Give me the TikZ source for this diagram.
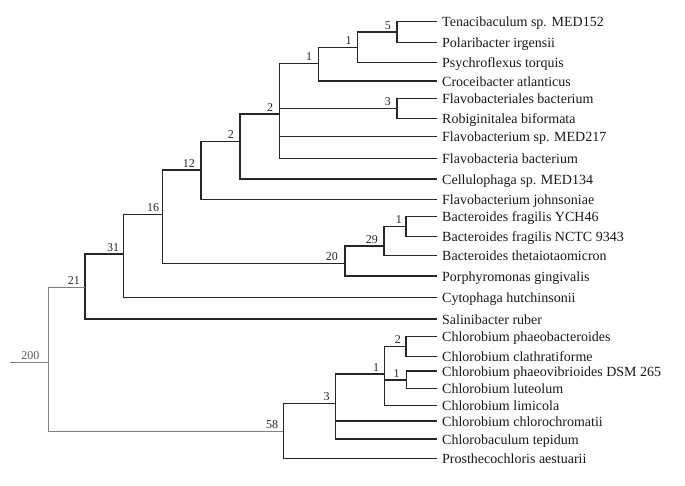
\documentclass[tikz,border=0pt]{standalone}
\usepackage{fontspec}
\setmainfont{Liberation Serif}
\begin{document}
\begin{tikzpicture}[x=1pt,y=-1pt,
  br/.style={line width=1.3pt, draw=black!85},
  rootline/.style={line width=0.8pt, draw=black!50},
  lab/.style={font=\fontsize{12}{12}\selectfont, inner sep=0pt, anchor=base east, text=black!85},
  leaf/.style={font=\fontsize{14}{14}\selectfont, inner sep=0pt, anchor=base west, text=black!90}]
\useasboundingbox (0,0) rectangle (685,485);
% leaf tips
\coordinate (t1) at (437,21.5);
\coordinate (t2) at (437,42.5);
\coordinate (t3) at (437,62.3);
\coordinate (t4) at (437,81);
\coordinate (t5) at (437,98.3);
\coordinate (t6) at (437,118.3);
\coordinate (t7) at (437,136.7);
\coordinate (t8) at (437,158.3);
\coordinate (t9) at (437,179);
\coordinate (t10) at (437,199.3);
\coordinate (t11) at (437,216.7);
\coordinate (t12) at (437,236.7);
\coordinate (t13) at (437,255.7);
\coordinate (t14) at (437,276);
\coordinate (t15) at (437,297.3);
\coordinate (t16) at (437,319);
\coordinate (t17) at (437,336.7);
\coordinate (t18) at (437,356.7);
\coordinate (t19) at (437,371);
\coordinate (t20) at (437,388.3);
\coordinate (t21) at (437,405.7);
\coordinate (t22) at (437,421);
\coordinate (t23) at (437,439);
\coordinate (t24) at (437,458.3);
% leaf labels
\node[leaf] (l1) at ([shift={(5,5)}]t1) {Tenacibaculum sp. MED152};
\node[leaf] (l2) at ([shift={(5,5)}]t2) {Polaribacter irgensii};
\node[leaf] (l3) at ([shift={(5,5)}]t3) {Psychroflexus torquis};
\node[leaf] (l4) at ([shift={(5,5)}]t4) {Croceibacter atlanticus};
\node[leaf] (l5) at ([shift={(5,5)}]t5) {Flavobacteriales bacterium};
\node[leaf] (l6) at ([shift={(5,5)}]t6) {Robiginitalea biformata};
\node[leaf] (l7) at ([shift={(5,5)}]t7) {Flavobacterium sp. MED217};
\node[leaf] (l8) at ([shift={(5,5)}]t8) {Flavobacteria bacterium};
\node[leaf] (l9) at ([shift={(5,5)}]t9) {Cellulophaga sp. MED134};
\node[leaf] (l10) at ([shift={(5,5)}]t10) {Flavobacterium johnsoniae};
\node[leaf] (l11) at ([shift={(5,5)}]t11) {Bacteroides fragilis YCH46};
\node[leaf] (l12) at ([shift={(5,5)}]t12) {Bacteroides fragilis NCTC 9343};
\node[leaf] (l13) at ([shift={(5,5)}]t13) {Bacteroides thetaiotaomicron};
\node[leaf] (l14) at ([shift={(5,5)}]t14) {Porphyromonas gingivalis};
\node[leaf] (l15) at ([shift={(5,5)}]t15) {Cytophaga hutchinsonii};
\node[leaf] (l16) at ([shift={(5,5)}]t16) {Salinibacter ruber};
\node[leaf] (l17) at ([shift={(5,5)}]t17) {Chlorobium phaeobacteroides};
\node[leaf] (l18) at ([shift={(5,5)}]t18) {Chlorobium clathratiforme};
\node[leaf] (l19) at ([shift={(5,5)}]t19) {Chlorobium phaeovibrioides DSM 265};
\node[leaf] (l20) at ([shift={(5,5)}]t20) {Chlorobium luteolum};
\node[leaf] (l21) at ([shift={(5,5)}]t21) {Chlorobium limicola};
\node[leaf] (l22) at ([shift={(5,5)}]t22) {Chlorobium chlorochromatii};
\node[leaf] (l23) at ([shift={(5,5)}]t23) {Chlorobaculum tepidum};
\node[leaf] (l24) at ([shift={(5,5)}]t24) {Prosthecochloris aestuarii};
% internal nodes
\coordinate (a5) at (397,32);
\coordinate (a1a) at (357.7,47.3);
\coordinate (a1b) at (318.3,63.3);
\coordinate (a3) at (397,108.3);
\coordinate (a2a) at (279.3,114);
\coordinate (a2b) at (240,141.7);
\coordinate (a12) at (201,170);
\coordinate (a1c) at (406,226.7);
\coordinate (a29) at (384,246);
\coordinate (a20) at (345,263.3);
\coordinate (a16) at (162.3,214.7);
\coordinate (a31) at (123.3,254);
\coordinate (a21) at (85,287.3);
\coordinate (a2c) at (406,346.7);
\coordinate (a1d) at (406.7,380);
\coordinate (a1e) at (384.3,374);
\coordinate (a3b) at (335.7,403.3);
\coordinate (a58) at (283.3,431.7);
\coordinate (root) at (48,362.7);
\coordinate (rootend) at (10,362.7);
% node labels
\node[lab] (n5) at ([shift={(-6,-3)}]a5) {5};
\node[lab] (n1a) at ([shift={(-6,-3)}]a1a) {1};
\node[lab] (n1b) at ([shift={(-6,-3)}]a1b) {1};
\node[lab] (n3) at ([shift={(-6,-3)}]a3) {3};
\node[lab] (n2a) at ([shift={(-6,-3)}]a2a) {2};
\node[lab] (n2b) at ([shift={(-6,-3)}]a2b) {2};
\node[lab] (n12) at ([shift={(-6,-3)}]a12) {12};
\node[lab] (n1c) at ([shift={(-4,-3)}]a1c) {1};
\node[lab] (n29) at ([shift={(-6,-3)}]a29) {29};
\node[lab] (n20) at ([shift={(-7,-3)}]a20) {20};
\node[lab] (n16) at ([shift={(-3,-3)}]a16) {16};
\node[lab] (n31) at ([shift={(-4,-3)}]a31) {31};
\node[lab] (n21) at ([shift={(-5,-3)}]a21) {21};
\node[lab] (n2c) at ([shift={(-5,-3)}]a2c) {2};
\node[lab] (n1d) at ([shift={(-7,-3)}]a1d) {1};
\node[lab] (n1e) at ([shift={(-5,-3)}]a1e) {1};
\node[lab] (n3b) at ([shift={(-6,-3)}]a3b) {3};
\node[lab] (n58) at ([shift={(-5,-3)}]a58) {58};
\node[lab, text=black!65] (n200) at ([shift={(-8.5,-3.5)}]root) {200};
% branches
\draw[br] (a5) |- (t1);
\draw[br] (a5) |- (t2);
\draw[br] (a1a) |- (a5);
\draw[br] (a1a) |- (t3);
\draw[br] (a1b) |- (a1a);
\draw[br] (a1b) |- (t4);
\draw[br] (a3) |- (t5);
\draw[br] (a3) |- (t6);
\draw[br] (a2a) |- (a1b);
\draw[br] (a2a) |- (a3);
\draw[br] (a2a) |- (t7);
\draw[br] (a2a) |- (t8);
\draw[br] (a2b) |- (a2a);
\draw[br] (a2b) |- (t9);
\draw[br] (a12) |- (a2b);
\draw[br] (a12) |- (t10);
\draw[br] (a1c) |- (t11);
\draw[br] (a1c) |- (t12);
\draw[br] (a29) |- (a1c);
\draw[br] (a29) |- (t13);
\draw[br] (a20) |- (a29);
\draw[br] (a20) |- (t14);
\draw[br] (a16) |- (a12);
\draw[br] (a16) |- (a20);
\draw[br] (a31) |- (a16);
\draw[br] (a31) |- (t15);
\draw[br] (a21) |- (a31);
\draw[br] (a21) |- (t16);
\draw[br] (a2c) |- (t17);
\draw[br] (a2c) |- (t18);
\draw[br] (a1d) |- (t19);
\draw[br] (a1d) |- (t20);
\draw[br] (a1e) |- (a2c);
\draw[br] (a1e) |- (a1d);
\draw[br] (a1e) |- (t21);
\draw[br] (a3b) |- (a1e);
\draw[br] (a3b) |- (t22);
\draw[br] (a3b) |- (t23);
\draw[br] (a58) |- (a3b);
\draw[br] (a58) |- (t24);
\draw[rootline] (root) |- (a21);
\draw[rootline] (root) |- (a58);
\draw[rootline] (rootend) -- (root);
\end{tikzpicture}
\end{document}
